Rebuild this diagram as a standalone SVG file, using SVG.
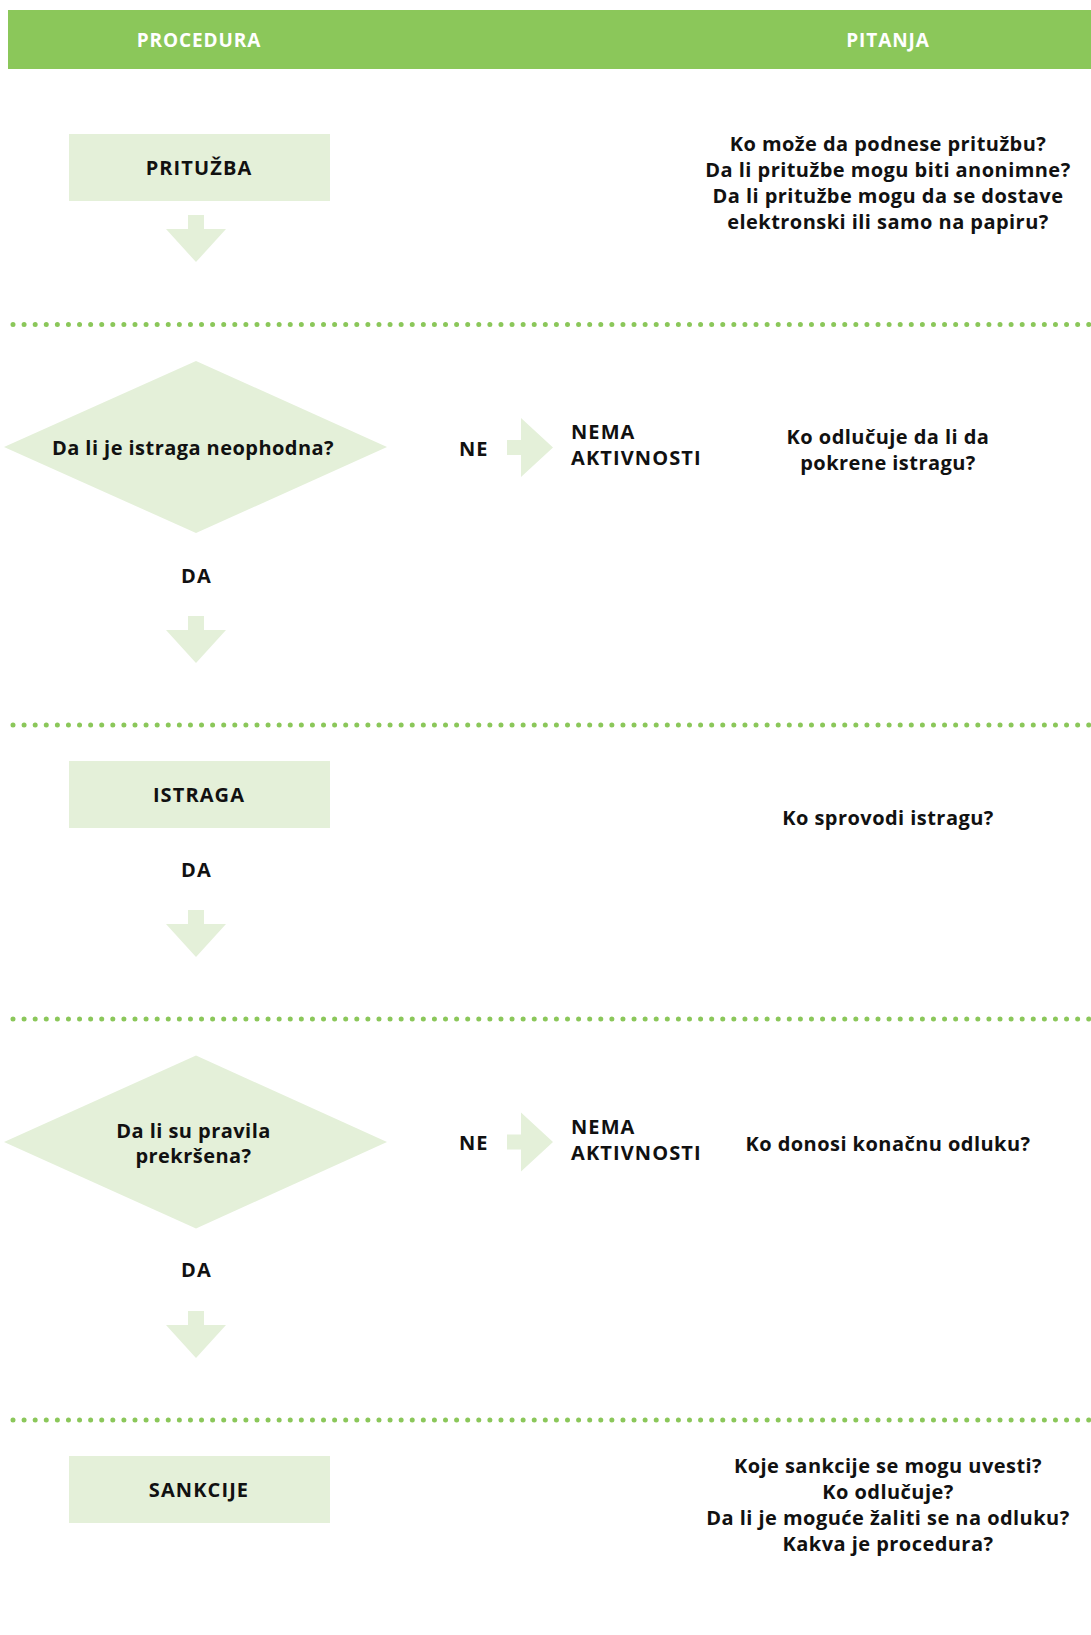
<svg xmlns="http://www.w3.org/2000/svg" width="1091" height="1635" viewBox="0 0 1091 1635">
<style>
.hdr{fill:#8bc75a}
.hdrt{font-family:"Open Sans","Noto Sans",sans-serif;font-weight:700;font-size:19px;fill:#ffffff;letter-spacing:0.9px;text-anchor:middle}
.box{fill:#e4f0d9}
.t{font-family:"Open Sans","Noto Sans",sans-serif;font-weight:700;font-size:20px;fill:#111111;letter-spacing:0.45px}
.u{letter-spacing:1.1px}
.c{text-anchor:middle}
.dots{stroke:#8bc75a;stroke-width:5;stroke-linecap:round;stroke-dasharray:0 11.09;fill:none}
.arr{fill:#e4f0d9}
</style>
<defs>
<path id="down" d="M-8,0 H8 V14 H30 L0,47 L-30,14 H-8 Z"/>
<path id="right" d="M0,-7.5 H14 V-29.5 L46,0 L14,29.5 V7.5 H0 Z"/>
</defs>
<rect width="1091" height="1635" fill="#ffffff"/>
<g id="header">
<rect class="hdr" x="8" y="10" width="1083" height="59"/>
<text class="hdrt" x="199" y="47">PROCEDURA</text>
<text class="hdrt" x="888" y="47">PITANJA</text>
</g>
<g id="separators">
<line class="dots" x1="13" y1="324.5" x2="1090" y2="324.5"/>
<line class="dots" x1="13" y1="725" x2="1090" y2="725"/>
<line class="dots" x1="13" y1="1019" x2="1090" y2="1019"/>
<line class="dots" x1="13" y1="1420" x2="1090" y2="1420"/>
</g>
<g id="node-prituzba">
<rect class="box" x="69" y="134" width="261" height="67"/>
<text class="t u c" x="199" y="174.5">PRITUŽBA</text>
</g>
<g id="node-istraga-neophodna">
<polygon class="box" points="4,447 196,361 387,447 196,533"/>
<text class="t c" x="193" y="455">Da li je istraga neophodna?</text>
</g>
<g id="node-nema-1">
<text class="t u" x="571" y="439">NEMA</text>
<text class="t u" x="571" y="465">AKTIVNOSTI</text>
</g>
<g id="node-istraga">
<rect class="box" x="69" y="761" width="261" height="67"/>
<text class="t u c" x="199" y="801.5">ISTRAGA</text>
</g>
<g id="node-pravila-prekrsena">
<polygon class="box" points="4,1142 196,1055.5 387,1142 196,1228.5"/>
<text class="t c" x="193.5" y="1137.5">Da li su pravila</text>
<text class="t c" x="193.5" y="1163">prekršena?</text>
</g>
<g id="node-nema-2">
<text class="t u" x="571" y="1133.5">NEMA</text>
<text class="t u" x="571" y="1159.5">AKTIVNOSTI</text>
</g>
<g id="node-sankcije">
<rect class="box" x="69" y="1456" width="261" height="67"/>
<text class="t u c" x="199" y="1497">SANKCIJE</text>
</g>
<g id="questions-1">
<text class="t c" x="888" y="150.5">Ko može da podnese pritužbu?</text>
<text class="t c" x="888" y="177">Da li pritužbe mogu biti anonimne?</text>
<text class="t c" x="888" y="203">Da li pritužbe mogu da se dostave</text>
<text class="t c" x="888" y="229">elektronski ili samo na papiru?</text>
</g>
<g id="questions-2">
<text class="t c" x="888" y="443.5">Ko odlučuje da li da</text>
<text class="t c" x="888" y="469.5">pokrene istragu?</text>
</g>
<g id="questions-3">
<text class="t c" x="888" y="824.5">Ko sprovodi istragu?</text>
</g>
<g id="questions-4">
<text class="t c" x="888" y="1151">Ko donosi konačnu odluku?</text>
</g>
<g id="questions-5">
<text class="t c" x="888" y="1473">Koje sankcije se mogu uvesti?</text>
<text class="t c" x="888" y="1499">Ko odlučuje?</text>
<text class="t c" x="888" y="1525">Da li je moguće žaliti se na odluku?</text>
<text class="t c" x="888" y="1551">Kakva je procedura?</text>
</g>
<g id="connectors">
<use href="#down" class="arr" x="196" y="215"/>
<use href="#down" class="arr" x="196" y="616"/>
<use href="#down" class="arr" x="196" y="910"/>
<use href="#down" class="arr" x="196" y="1311"/>
<use href="#right" class="arr" x="507" y="447.5"/>
<use href="#right" class="arr" x="507" y="1142"/>
<text class="t u c" x="196.5" y="582.5">DA</text>
<text class="t u c" x="196.5" y="877">DA</text>
<text class="t u c" x="196.5" y="1277">DA</text>
<text class="t u" x="459" y="455.5">NE</text>
<text class="t u" x="459" y="1150">NE</text>
</g>
</svg>
